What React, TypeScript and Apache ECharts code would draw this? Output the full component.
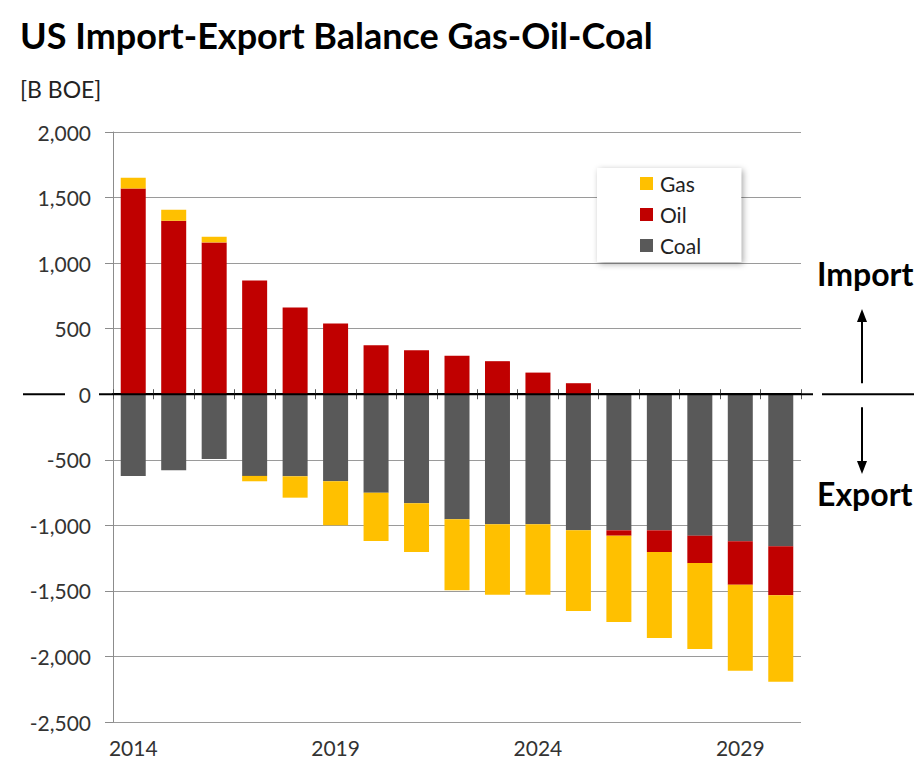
import React, { useEffect, useRef } from "react";
import * as echarts from "echarts";

const years = ["2014","2015","2016","2017","2018","2019","2020","2021","2022","2023","2024","2025","2026","2027","2028","2029","2030"];
const coal = [-623,-580,-494,-623,-626,-664,-751,-832,-954,-992,-992,-1038,-1038,-1038,-1079,-1122,-1160];
const oil = [1570,1323,1158,868,662,540,374,336,293,252,165,84,-41,-166,-209,-331,-374];
const gas = [81,84,43,-41,-163,-336,-369,-372,-542,-537,-537,-616,-659,-656,-656,-656,-659];
const legendOrder = ["Gas", "Oil", "Coal"];
const yMin = -2500;
const yMax = 2000;
const yStep = 500;

const FONT = "Lato, 'Open Sans', sans-serif";

export default function App() {
  const ref = useRef<HTMLDivElement>(null);
  useEffect(() => {
    const el = ref.current!;
    const chart = echarts.init(el, null, { renderer: "svg" });
    const gridPos = { left: 113, right: 113, top: 132, bottom: 41 };
    chart.setOption({
      animation: false,
      backgroundColor: "#ffffff",
      title: [
        {
          text: "US Import-Export Balance Gas-Oil-Coal",
          left: 15,
          top: 12,
          textStyle: { fontFamily: FONT, fontSize: 36, fontWeight: "bold", color: "#000" },
        },
        {
          text: "[B BOE]",
          left: 15,
          top: 72,
          textStyle: { fontFamily: FONT, fontSize: 23, fontWeight: "normal", color: "#222" },
        },
      ],
      legend: {
        data: legendOrder,
        orient: "vertical",
        left: 597,
        top: 168,
        padding: [5, 40, 6, 43],
        itemWidth: 13,
        itemHeight: 13,
        itemGap: 10,
        backgroundColor: "#ffffff",
        shadowBlur: 6,
        shadowColor: "rgba(0,0,0,0.35)",
        shadowOffsetX: 2,
        shadowOffsetY: 2,
        icon: "rect",
        textStyle: { fontFamily: FONT, fontSize: 21, color: "#222", padding: [0, 0, 0, 2] },
      },
      grid: [
        { ...gridPos },
        { ...gridPos },
      ],
      xAxis: [
        {
          type: "category",
          data: years,
          gridIndex: 0,
          position: "bottom",
          axisLine: { show: false, onZero: false },
          axisTick: { show: false },
          axisLabel: {
            interval: 4,
            margin: 15,
            fontFamily: FONT,
            fontSize: 21,
            color: "#333",
          },
        },
        {
          type: "category",
          data: years,
          gridIndex: 0,
          position: "top",
          axisLine: { show: true, onZero: true, lineStyle: { color: "#000", width: 2 } },
          axisTick: { show: true, length: 5, lineStyle: { color: "#555", width: 1 } },
          axisLabel: { show: false },
        },
        {
          type: "category",
          data: years,
          gridIndex: 1,
          position: "bottom",
          axisLine: { show: false, onZero: true },
          axisTick: { show: true, length: 5, lineStyle: { color: "#555", width: 1 } },
          axisLabel: { show: false },
        },
      ],
      yAxis: [
        {
          type: "value",
          gridIndex: 0,
          min: yMin,
          max: yMax,
          interval: yStep,
          axisLine: { show: true, lineStyle: { color: "#8c8c8c", width: 1 } },
          axisTick: { show: true, length: 8, lineStyle: { color: "#8c8c8c" } },
          splitLine: { show: true, lineStyle: { color: "#9a9a9a", width: 1 } },
          axisLabel: {
            margin: 22,
            fontFamily: FONT,
            fontSize: 21,
            color: "#333",
            formatter: (v: number) => (v === 0 ? "0" : v.toLocaleString("en-US")),
          },
        },
        {
          type: "value",
          gridIndex: 1,
          min: yMin,
          max: yMax,
          interval: yStep,
          show: false,
        },
      ],
      series: [
        { name: "Coal", type: "bar", stack: "total", data: coal, barWidth: 25, itemStyle: { color: "#595959" }, xAxisIndex: 0, yAxisIndex: 0 },
        { name: "Oil", type: "bar", stack: "total", data: oil, barWidth: 25, itemStyle: { color: "#C00000" }, xAxisIndex: 0, yAxisIndex: 0 },
        { name: "Gas", type: "bar", stack: "total", data: gas, barWidth: 25, itemStyle: { color: "#FFC000" }, xAxisIndex: 0, yAxisIndex: 0 },
      ],
    });

    const y0 = chart.convertToPixel({ yAxisIndex: 0 }, 0) as number;
    const ax = 862;
    chart.setOption({
      graphic: [
        { type: "line", shape: { x1: 23, y1: y0, x2: 65, y2: y0 }, style: { stroke: "#000", lineWidth: 2 } },
        { type: "line", shape: { x1: 99, y1: y0, x2: 813, y2: y0 }, style: { stroke: "#000", lineWidth: 2 }, z: 10 },
        { type: "line", shape: { x1: 822, y1: y0, x2: 914, y2: y0 }, style: { stroke: "#000", lineWidth: 2 } },
        { type: "text", left: 817, top: 257, style: { text: "Import", fontFamily: FONT, fontSize: 32, fontWeight: "bold", fill: "#000" } },
        { type: "text", left: 817, top: 477, style: { text: "Export", fontFamily: FONT, fontSize: 32, fontWeight: "bold", fill: "#000" } },
        { type: "line", shape: { x1: ax, y1: y0 - 11, x2: ax, y2: 320 }, style: { stroke: "#000", lineWidth: 2 } },
        { type: "polygon", shape: { points: [[ax - 5, 322], [ax + 5, 322], [ax, 309]] }, style: { fill: "#000" } },
        { type: "line", shape: { x1: ax, y1: y0 + 13, x2: ax, y2: 463 }, style: { stroke: "#000", lineWidth: 2 } },
        { type: "polygon", shape: { points: [[ax - 5, 461], [ax + 5, 461], [ax, 474]] }, style: { fill: "#000" } },
      ],
    });

    return () => chart.dispose();
  }, []);
  return <div ref={ref} style={{ position: "fixed", left: 0, top: 0, width: 914, height: 763 }} />;
}
